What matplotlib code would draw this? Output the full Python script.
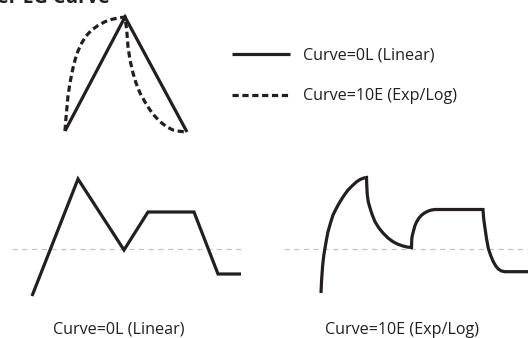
import matplotlib
matplotlib.use("Agg")
import matplotlib.pyplot as plt

plt.rcParams['font.family'] = ['Open Sans', 'DejaVu Sans']
plt.rcParams['lines.scale_dashes'] = False

# ---- data (pixel space) ----
title_text = "Filter EG Curve"
legend_labels = ["Curve=0L (Linear)", "Curve=10E (Exp/Log)"]
panel_labels = ["Curve=0L (Linear)", "Curve=10E (Exp/Log)"]

top_lin_x = [65, 125, 187]
top_lin_y = [131, 17, 132]

top_exp_x = [65, 65.8, 66.7, 68, 70, 72.3, 75, 78, 81.7, 86, 91.7, 98, 105, 112, 118, 125,
             125.8, 126.7, 128, 130, 133, 136, 140, 145, 150, 155.5, 161.7, 167, 173, 178, 183, 187]
top_exp_y = [131, 120, 110, 96, 83, 71, 60, 51, 43, 36, 30, 25.5, 21.7, 19.3, 18, 17,
             23, 30, 46.7, 60, 73, 83, 93, 102, 110, 117, 123, 127, 130, 131, 131.7, 132]

lin_x = [32, 78, 124, 148, 194, 218, 241]
lin_y = [296, 179, 250, 212, 212, 274, 274]

exp_x = [321, 321.6, 322.7, 323.7, 325, 326.4, 328, 330.5, 333, 336.5, 340, 344, 348, 352.5,
         356.7, 360.5, 364, 366.5,
         366.8, 367.3, 368.3, 370, 372.3, 375, 378.8, 383, 388, 393, 398, 403, 407, 411.5,
         411.8, 412.2, 413.3, 414.8, 416.7, 419, 421.7, 424.8, 428.3, 431.5, 435, 483,
         483.6, 485, 486.5, 488.3, 490.7, 493.3, 495.8, 498.3, 501.5, 505, 528]
exp_y = [293, 280, 265, 256, 248, 240, 231.7, 223, 215, 208, 201.7, 195.5, 190, 185.5,
         181.7, 179.3, 178, 177.5,
         186, 195, 202, 208, 215, 221.7, 227.8, 233, 238, 241.7, 244.3, 246, 247, 247.5,
         239, 236, 231.7, 226, 221.7, 218, 215, 212.8, 211, 210, 209.5, 209.5,
         218, 228.3, 238.5, 248.3, 255.5, 261.7, 266, 269, 271, 271.7, 271.7]

ref_left_x = [12, 241]
ref_right_x = [284, 528]
ref_y = 249

# ---- figure ----
W, H = 528, 338
fig = plt.figure(figsize=(W / 100, H / 100), dpi=100)
ax = fig.add_axes([0, 0, 1, 1])
ax.set_xlim(0, W)
ax.set_ylim(H, 0)
ax.axis('off')

ink = '#231f20'
lw = 2.3
dash = (0, (4.5, 2.6))

# reference lines
gray = '#c4c4c4'
for xs in (ref_left_x, ref_right_x):
    ax.plot(xs, [ref_y, ref_y], color=gray, lw=0.9, linestyle=(0, (3.8, 3.2)))

common = dict(color=ink, lw=lw, solid_joinstyle='miter', solid_capstyle='butt',
              dash_joinstyle='miter', dash_capstyle='butt')

ax.plot(top_lin_x, top_lin_y, **common)
ax.plot(top_exp_x, top_exp_y, linestyle=dash, **common)
ax.plot(lin_x, lin_y, **common)
ax.plot(exp_x, exp_y, **common)

# legend (manual)
ax.plot([232, 290], [54, 54], **common)
ax.plot([232, 290], [95, 95], linestyle=dash, **common)
fs = 11.6
ax.text(303, 55, legend_labels[0], fontsize=fs, color=ink, va='center', ha='left')
ax.text(303, 96, legend_labels[1], fontsize=fs, color=ink, va='center', ha='left')

# panel labels
ax.text(119, 330, panel_labels[0], fontsize=fs, color=ink, va='center', ha='center')
ax.text(402, 330, panel_labels[1], fontsize=fs, color=ink, va='center', ha='center')

# cropped title (only its lower edge shows, as in the reference)
ax.text(110, 3.0, title_text, fontsize=14, fontweight='bold', color=ink,
        va='baseline', ha='right')

fig.savefig('out.png', dpi=100)
